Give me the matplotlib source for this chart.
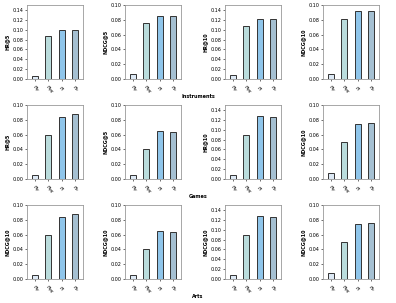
import numpy as np
import matplotlib.pyplot as plt

methods = [r'$\pi_{p}$', r'$\pi_{pg}$', r'$\pi$', r'$\pi_{c}$']
metrics = ['HR@5', 'NDCG@5', 'HR@10', 'NDCG@10']
arts_labels = ['NDCG@10', 'NDCG@10', 'NDCG@10', 'NDCG@10']

instruments = [
    [0.007, 0.088, 0.099, 0.100],
    [0.007, 0.075, 0.085, 0.085],
    [0.008, 0.107, 0.122, 0.122],
    [0.007, 0.081, 0.092, 0.092],
]
games = [
    [0.005, 0.060, 0.084, 0.088],
    [0.005, 0.041, 0.065, 0.064],
    [0.008, 0.089, 0.127, 0.125],
    [0.008, 0.050, 0.075, 0.076],
]
arts = games

datasets = ['Instruments', 'Games', 'Arts']
ylims = [[0.15, 0.10, 0.15, 0.10],
         [0.10, 0.10, 0.15, 0.10],
         [0.10, 0.10, 0.15, 0.10]]

colors = ['#dde9f5', '#badcdc', '#8fc5ea', '#a5c0d2']

fig = plt.figure(figsize=(3.96, 3.03), dpi=100)
lefts = [27, 125, 225, 323]
tops = [5, 105, 205]
w, h = 56, 74

for r, (name, data) in enumerate(zip(datasets, [instruments, games, arts])):
    labels = arts_labels if name == 'Arts' else metrics
    for c in range(4):
        ax = fig.add_axes([lefts[c] / 396, 1 - (tops[r] + h) / 303, w / 396, h / 303])
        x = np.arange(len(methods))
        ax.bar(x, data[c], width=0.45, color=colors, edgecolor='#333333', linewidth=0.7)
        ax.set_xlim(-0.6, 3.6)
        top = ylims[r][c]
        ax.set_ylim(0, top)
        if top > 0.1:
            ax.set_yticks(np.arange(0, 0.141, 0.02))
        else:
            ax.set_yticks(np.arange(0, 0.101, 0.02))
        ax.yaxis.set_major_formatter(plt.FuncFormatter(lambda v, p: '%.2f' % v))
        ax.set_xticks(x)
        ax.set_xticklabels(methods, rotation=-45, ha='center', fontsize=4)
        ax.tick_params(axis='y', labelsize=3.5, length=1.5, width=0.4, pad=1)
        ax.tick_params(axis='x', length=1.5, width=0.4, pad=2)
        ax.set_ylabel(labels[c], fontsize=3.5, fontweight='bold', labelpad=2)
        for s in ax.spines.values():
            s.set_color('#999999')
            s.set_linewidth(0.6)
    fig.text(0.5, 1 - (tops[r] + 91) / 303, name, ha='center', va='center',
             fontsize=3.5, fontweight='bold')

fig.savefig('out.png', dpi=100)
